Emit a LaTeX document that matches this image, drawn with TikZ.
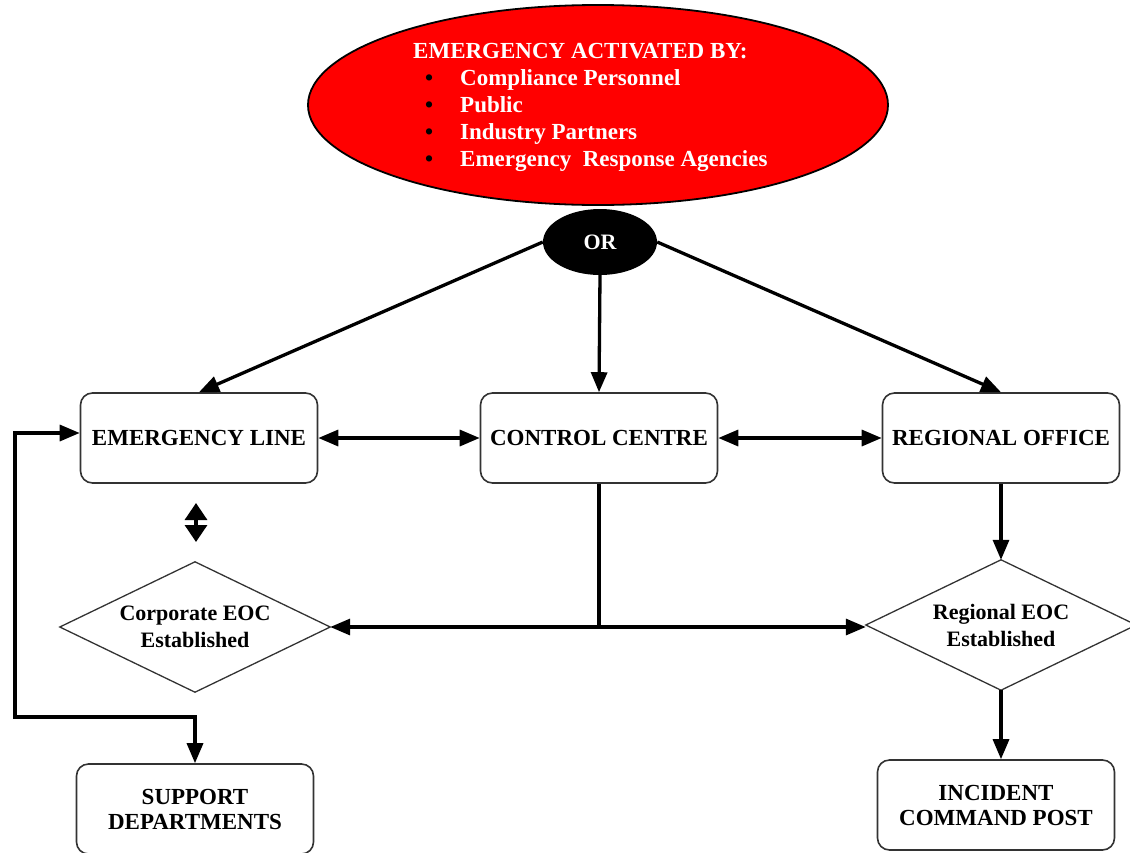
\documentclass[tikz,border=0pt]{standalone}
\usepackage{fontspec}
\setmainfont{Liberation Serif}
\usetikzlibrary{arrows.meta,shapes.geometric,calc}
\newcommand{\blt}{\makebox[47pt][l]{\hspace{12pt}\textcolor{black}{\textbullet}}}
\begin{document}
\begin{tikzpicture}[x=1pt,y=-1pt,
  box/.style={draw=black!80, line width=1.6pt, rounded corners=12pt, fill=white,
    minimum width=237pt, minimum height=90pt, align=center, inner sep=0pt,
    font=\fontsize{23}{25}\selectfont\bfseries},
  dia/.style={rectangle, minimum width=270pt, minimum height=130pt, align=center, inner sep=0pt,
    font=\fontsize{22}{27}\selectfont\bfseries},
  diaedge/.style={draw=black!80, line width=1.3pt, line join=miter},
  conn/.style={line width=3.3pt},
  arr/.style={conn, -{Triangle[length=20pt,width=16pt]}},
  darr/.style={conn, {Triangle[length=20pt,width=16pt]}-{Triangle[length=20pt,width=16pt]}},
  sarr/.style={conn, -{Triangle[length=17pt,width=22pt]}},
]
\useasboundingbox (0,0) rectangle (1130,852);

% top ellipse
\node[ellipse, draw=black, line width=1.8pt, fill=red, minimum width=580pt, minimum height=200pt] (top) at (598,105) {};
\node[anchor=base west, inner sep=0pt, text=white, font=\fontsize{23}{27}\selectfont\bfseries] (acttext) at (413,58)
  {\begin{tabular}[t]{@{}l@{}}
   EMERGENCY ACTIVATED BY:\\
   \blt Compliance Personnel\\
   \blt Public\\
   \blt Industry Partners\\
   \blt Emergency\ \ Response Agencies
   \end{tabular}};

% OR
\node[ellipse, fill=black, minimum width=114pt, minimum height=66pt, inner sep=0pt, text=white,
  font=\fontsize{22}{24}\selectfont\bfseries] (or) at (600,242) {OR};

% boxes
\node[box] (el) at (199,438) {EMERGENCY LINE};
\node[box] (cc) at (599,438) {CONTROL CENTRE};
\node[box] (ro) at (1001,438) {REGIONAL OFFICE};
\node[box] (sd) at (195,809) {SUPPORT\\DEPARTMENTS};
\node[box] (icp) at (996,805) {INCIDENT\\COMMAND POST};

% diamonds
\node[dia] (ced) at (195,627) {Corporate EOC\\Established};
\draw[diaedge] (ced.north) -- (ced.east) -- (ced.south) -- (ced.west) -- cycle;
\node[dia] (red) at (1001,625) {Regional EOC\\Established};
\draw[diaedge] (red.north) -- (red.east) -- (red.south) -- (red.west) -- cycle;

% connectors from OR
\draw[arr] (or.west) -- (el.north);
\draw[arr] (or.south) -- (cc.north);
\draw[arr] (or.east) -- (ro.north);

% horizontal double arrows
\draw[darr] (el.east) -- (cc.west);
\draw[darr] (cc.east) -- (ro.west);

% control centre to EOCs
\coordinate (j) at (cc.south |- ced.east);
\draw[conn] (cc.south) -- (j);
\draw[arr] (j) -- (ced.east);
\draw[arr] (j) -- (j -| red.west);

% regional chain
\draw[arr] (ro.south) -- (red.north);
\draw[arr] (red.south) -- (red.south |- icp.north);

% small double arrow under emergency line
\coordinate (sa) at (196,503);
\coordinate (sm) at (196,522.5);
\coordinate (sb) at (196,542);
\draw[sarr] (sm) -- (sa);
\draw[sarr] (sm) -- (sb);
\draw[conn, line width=4pt, shorten <=12pt, shorten >=12pt] (sa) -- (sb);

% loop
\coordinate (l1) at (15,433);
\coordinate (l2) at (15,717);
\draw[darr, line join=miter] (l1 -| el.west) -- (l1) -- (l2) -| (sd.north);
\end{tikzpicture}
\end{document}
